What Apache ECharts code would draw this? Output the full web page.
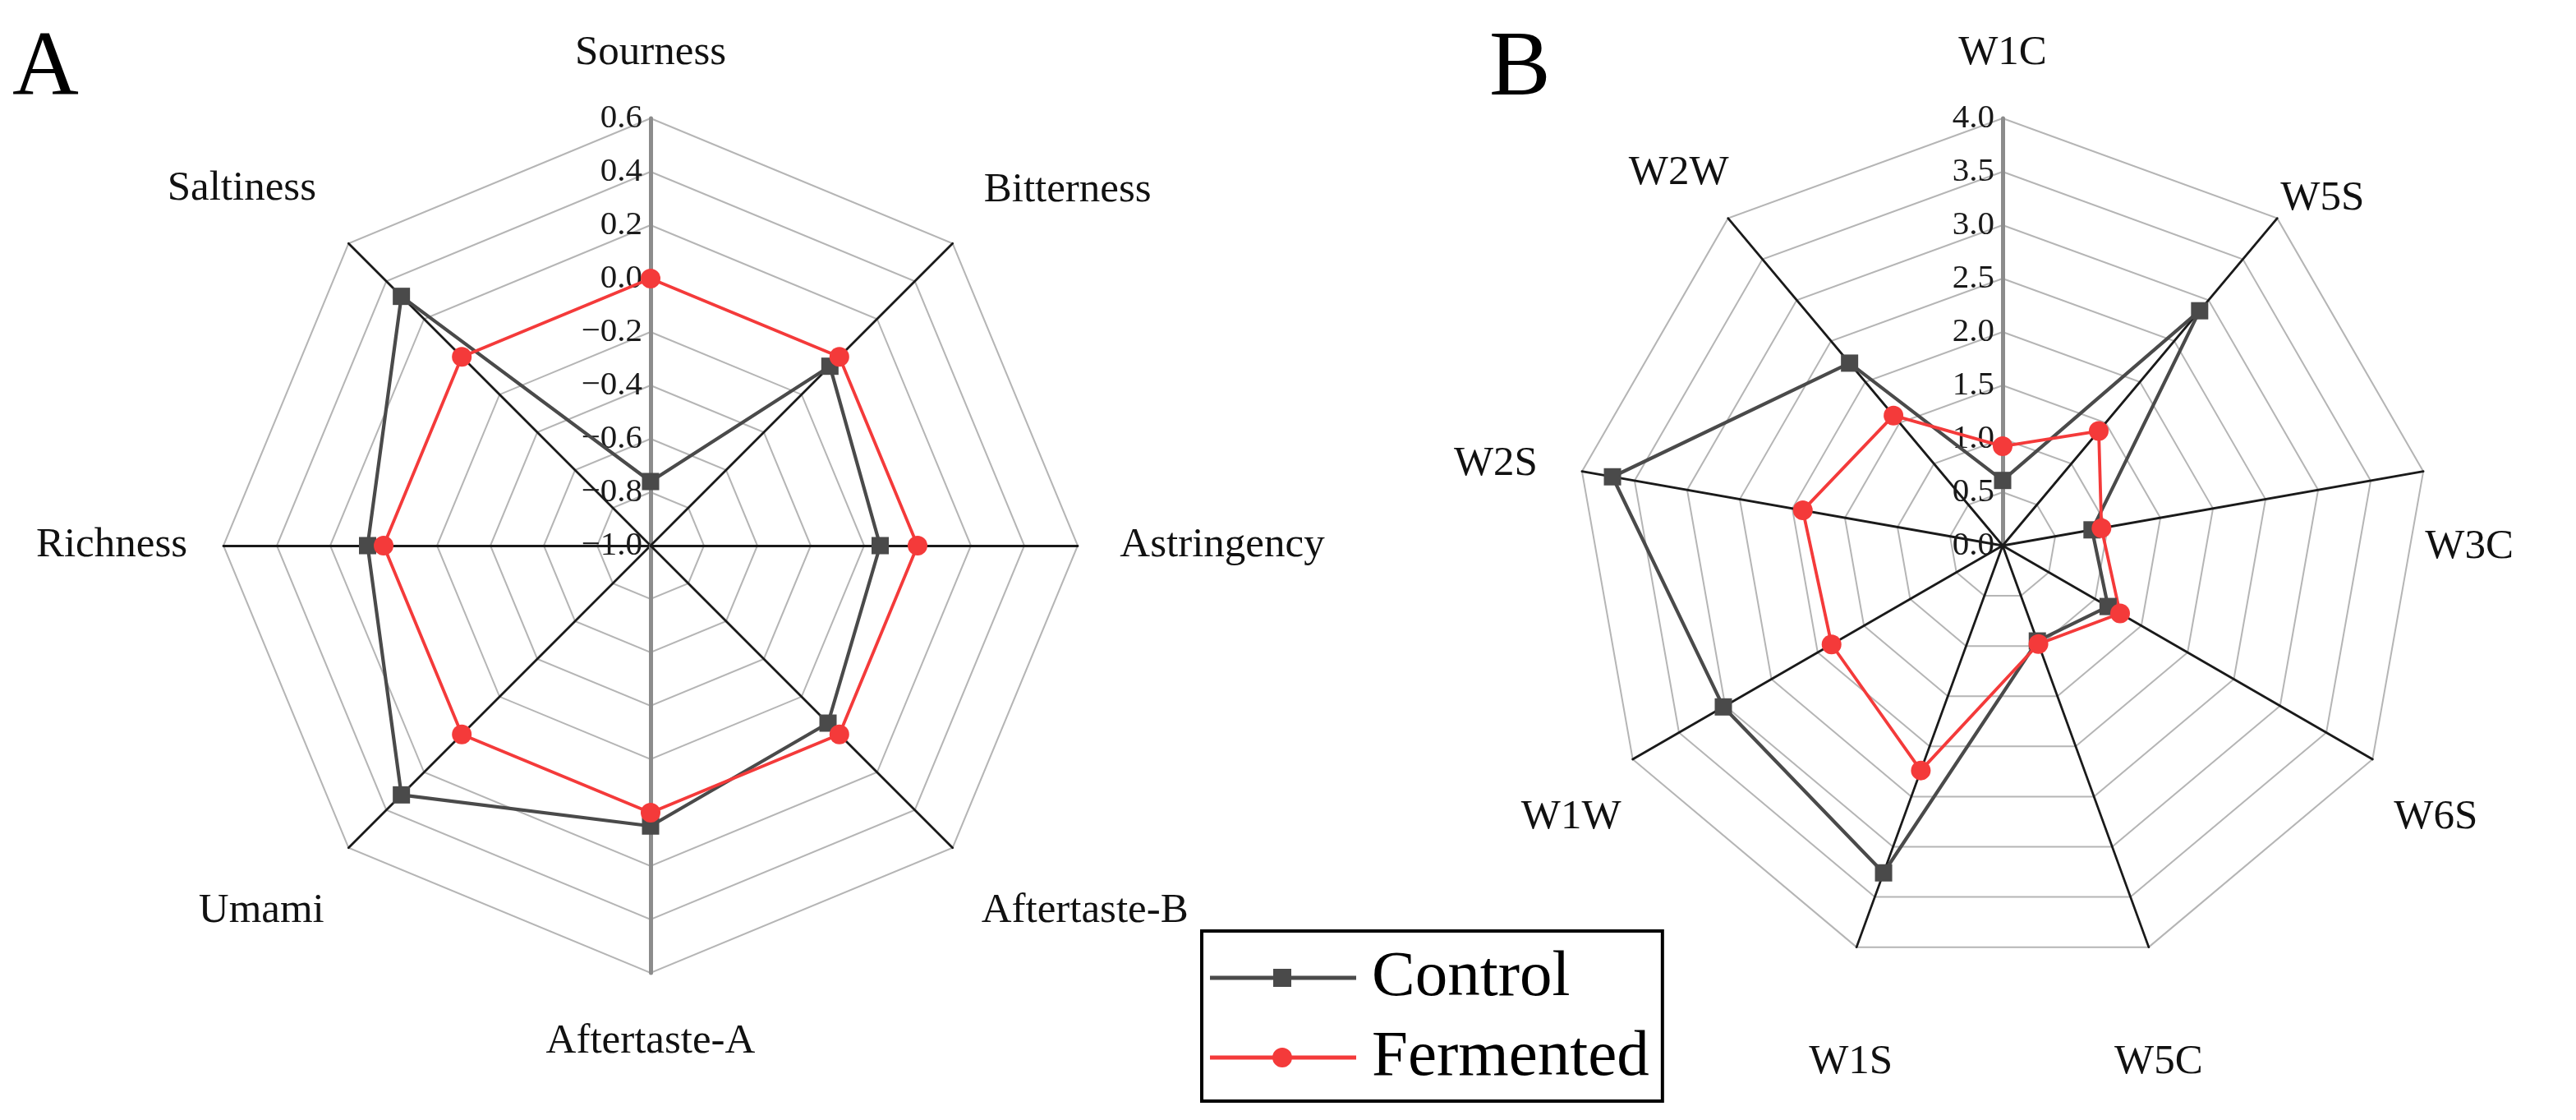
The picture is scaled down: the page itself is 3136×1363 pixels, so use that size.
<!DOCTYPE html>
<html><head><meta charset="utf-8">
<script src="https://cdn.jsdelivr.net/npm/echarts@6/dist/echarts.min.js"></script>
<style>html,body{margin:0;padding:0;background:#fff}#c{width:3136px;height:1363px}</style>
</head><body><div id="c"></div>
<script>
// ---- data (reference order: clockwise from top) ----
const tasteAxes = ['Sourness','Bitterness','Astringency','Aftertaste-B','Aftertaste-A','Umami','Richness','Saltiness'];
const tasteControl = [-0.76, -0.05, -0.14, -0.06, 0.05, 0.32, 0.06, 0.32];
const tasteFermented = [0.0, 0.0, 0.0, 0.0, 0.0, 0.0, 0.0, 0.0];
const tasteRange = [-1.0, 0.6];

const sensorAxes = ['W1C','W5S','W3C','W6S','W5C','W1S','W1W','W2S','W2W'];
const sensorControl = [0.61, 2.87, 0.85, 1.14, 0.95, 3.26, 3.02, 3.71, 2.23];
const sensorFermented = [0.93, 1.40, 0.94, 1.27, 0.98, 2.24, 1.85, 1.90, 1.59];
const sensorRange = [0.0, 4.0];

const seriesNames = ['Control', 'Fermented'];
const panelLetters = ['A', 'B'];

// ---- layout: axis-name centre offsets from each axis end (px), same order as axes ----
const tasteNameOffset = [[0,-79],[140,-65],[176,0],[161,77],[0,84],[-106,77],[-136,0],[-130,-67]];
const sensorNameOffset = [[0,-79],[55,-24],[56,92],[77,71],[12,140],[-7,140],[-75,71],[-105,-9],[-60,-55]];

// ---- helpers ----
const FONT = 'Liberation Serif';
const COL_CTRL = '#4a4a4a', COL_FERM = '#f43a3a';
// ECharts radar places indicators counter-clockwise; reorder to clockwise
const ccw = arr => [arr[0]].concat(arr.slice(1).reverse());
const fmt = v => Math.abs(v) < 1e-9 ? '0.0' : (v < 0 ? '\u2212' : '') + Math.abs(v).toFixed(1);
const pad = o => [o[1] > 0 ? 2 * o[1] : 0, o[0] < 0 ? -2 * o[0] : 0, o[1] < 0 ? -2 * o[1] : 0, o[0] > 0 ? 2 * o[0] : 0];

function indicators(names, range, greyIdx) {
  return ccw(names).map((n, i) => {
    const o = { name: n, min: range[0], max: range[1] };
    if (i === 0) o.axisLabel = { show: true };
    if (greyIdx.indexOf(i) >= 0) o.axisLine = { lineStyle: { color: '#8c8c8c', width: 5 } };
    return o;
  });
}
function axisNameOpt(names, offsets) {
  const rich = {};
  names.forEach((n, i) => { rich['n' + i] = { padding: pad(offsets[i]), fontSize: 51, fontFamily: FONT, color: '#111' }; });
  return {
    color: '#111', fontSize: 51, fontFamily: FONT, align: 'center', verticalAlign: 'middle',
    formatter: name => '{n' + names.indexOf(name) + '|' + name + '}',
    rich: rich
  };
}
const radarCommon = {
  shape: 'polygon', splitNumber: 8, startAngle: 90, radius: 520,
  nameGap: 0,
  splitLine: { lineStyle: { color: '#b5b5b5', width: 2 } },
  splitArea: { show: false },
  axisLine: { lineStyle: { color: '#1a1a1a', width: 2.8 } },
  axisTick: { show: false },
  axisLabel: { show: false, color: '#1a1a1a', fontSize: 41, fontFamily: FONT, margin: 10, formatter: fmt, showMinLabel: true, showMaxLabel: true }
};
const radarA = Object.assign({}, radarCommon, { center: [792, 664], axisName: axisNameOpt(tasteAxes, tasteNameOffset), indicator: indicators(tasteAxes, tasteRange, [0, 4]) });
const radarB = Object.assign({}, radarCommon, { center: [2438, 664], axisName: axisNameOpt(sensorAxes, sensorNameOffset), indicator: indicators(sensorAxes, sensorRange, [0]) });

function items(ctrl, ferm) {
  return [
    { name: seriesNames[0], value: ccw(ctrl), symbol: 'rect', symbolSize: 21,
      lineStyle: { color: COL_CTRL, width: 4.2 }, itemStyle: { color: COL_CTRL } },
    { name: seriesNames[1], value: ccw(ferm), symbol: 'circle', symbolSize: 24,
      lineStyle: { color: COL_FERM, width: 3.8 }, itemStyle: { color: COL_FERM } }
  ];
}
const iconCtrl = 'path://M0,9.5L78,9.5L78,14.5L0,14.5Z M77,1L99,1L99,23L77,23Z M98,9.5L178,9.5L178,14.5L98,14.5Z';
const iconFerm = 'path://M0,9.5L79,9.5L79,14.5L0,14.5Z M76,12A12,12 0 1 1 100,12A12,12 0 1 1 76,12Z M97,9.5L178,9.5L178,14.5L97,14.5Z';

const chart = echarts.init(document.getElementById('c'), null, { renderer: 'canvas' });
chart.setOption({
  animation: false,
  backgroundColor: '#fff',
  radar: [radarA, radarB],
  legend: {
    orient: 'vertical', left: 1463, top: 1133,
    itemWidth: 178, itemHeight: 24, itemGap: 17,
    padding: [17, 16, 13, 10],
    borderColor: '#000', borderWidth: 4,
    selectedMode: false,
    textStyle: { fontFamily: FONT, fontSize: 79, color: '#000', lineHeight: 80, padding: [0, 0, 0, 14] },
    data: [{ name: seriesNames[0], icon: iconCtrl }, { name: seriesNames[1], icon: iconFerm }]
  },
  graphic: [
    { type: 'text', left: 15, top: 30, style: { text: panelLetters[0], font: '112px "Liberation Serif"', fill: '#000' } },
    { type: 'text', left: 1813, top: 30, style: { text: panelLetters[1], font: '112px "Liberation Serif"', fill: '#000' } }
  ],
  series: [
    { type: 'radar', radarIndex: 0, data: items(tasteControl, tasteFermented) },
    { type: 'radar', radarIndex: 1, data: items(sensorControl, sensorFermented) }
  ]
});
</script></body></html>
